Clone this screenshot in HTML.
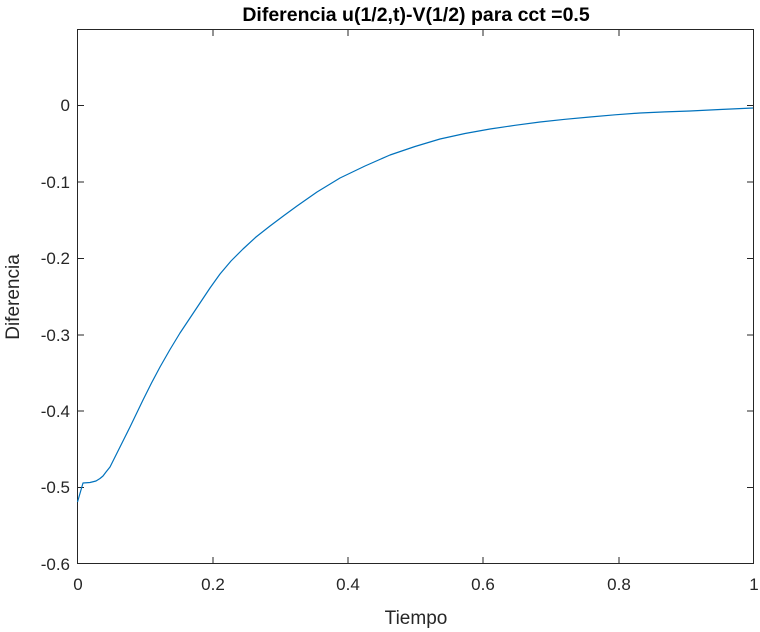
<!DOCTYPE html>
<html><head><style>body{margin:0;background:#fff}svg{display:block}</style></head><body>
<svg width="760" height="632" xmlns="http://www.w3.org/2000/svg" font-family="Liberation Sans, Arial, sans-serif">
<rect width="760" height="632" fill="#fff"/>
<rect x="77.5" y="29.5" width="676" height="534" fill="none" stroke="#262626" stroke-width="1"/>
<g stroke="#262626" stroke-width="1">
<line x1="213" y1="563.5" x2="213" y2="557"/><line x1="348" y1="563.5" x2="348" y2="557"/><line x1="483" y1="563.5" x2="483" y2="557"/><line x1="619" y1="563.5" x2="619" y2="557"/>
<line x1="213" y1="29.5" x2="213" y2="36"/><line x1="348" y1="29.5" x2="348" y2="36"/><line x1="483" y1="29.5" x2="483" y2="36"/><line x1="619" y1="29.5" x2="619" y2="36"/>
<line x1="77.5" y1="105.5" x2="84" y2="105.5"/><line x1="77.5" y1="182" x2="84" y2="182"/><line x1="77.5" y1="258.5" x2="84" y2="258.5"/><line x1="77.5" y1="335" x2="84" y2="335"/><line x1="77.5" y1="411" x2="84" y2="411"/><line x1="77.5" y1="487.5" x2="84" y2="487.5"/>
<line x1="753.5" y1="105.5" x2="747" y2="105.5"/><line x1="753.5" y1="182" x2="747" y2="182"/><line x1="753.5" y1="258.5" x2="747" y2="258.5"/><line x1="753.5" y1="335" x2="747" y2="335"/><line x1="753.5" y1="411" x2="747" y2="411"/><line x1="753.5" y1="487.5" x2="747" y2="487.5"/>
</g>
<g font-size="17" fill="#262626" text-anchor="end">
<text x="70" y="111">0</text><text x="70" y="188">-0.1</text><text x="70" y="264">-0.2</text><text x="70" y="341">-0.3</text><text x="70" y="417">-0.4</text><text x="70" y="493">-0.5</text><text x="70" y="570">-0.6</text>
</g>
<g font-size="17" fill="#262626" text-anchor="middle">
<text x="78" y="590">0</text><text x="213" y="590">0.2</text><text x="348" y="590">0.4</text><text x="483" y="590">0.6</text><text x="619" y="590">0.8</text><text x="754" y="590">1</text>
<text x="416" y="624" font-size="19">Tiempo</text>
<text x="416" y="21" font-size="19.5" font-weight="bold" fill="#000">Diferencia u(1/2,t)-V(1/2) para cct =0.5</text>
<text transform="translate(19,297) rotate(-90)" font-size="19">Diferencia</text>
</g>
<polyline fill="none" stroke="#0072BD" stroke-width="1.2" stroke-linejoin="round" points="77.5,502 83,483 90,482.5 96,481 100,478.5 103,476 106,472 110,467 115,457 120,447 125,437 130,427 136.5,413.5 143,400 151.5,383 160,367 170,349.5 180,333 190,318 200,303 210,288 220,274 231,261 243,249 256,237 270,226 284,215.5 297,206 317,192 340,178 365,166 390,155 415,146.5 440,139 465,133.5 490,129 515,125.3 540,122 565,119.3 590,117 615,114.8 640,113 665,111.9 690,111 720,109.5 753,108"/>
</svg>
</body></html>
